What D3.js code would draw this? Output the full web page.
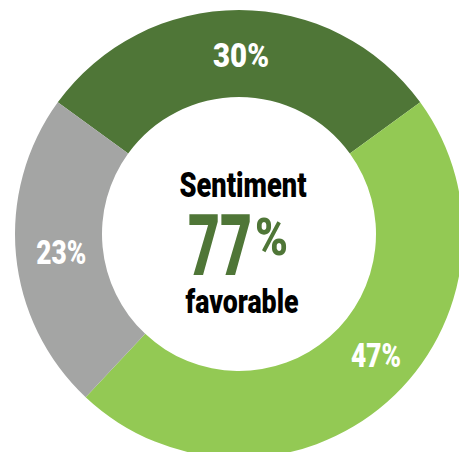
<!DOCTYPE html>
<html>
<head>
<meta charset="utf-8">
<script src="https://cdn.jsdelivr.net/npm/d3@7"></script>
<style>
	html, body { margin: 0; padding: 0; background: #fff; overflow: hidden; }
	text { font-family: Roboto, "Open Sans", sans-serif; font-weight: 900; }
</style>
</head>
<body>
<div id="donut"></div>
<script>
// slice data, clockwise from the upper left
var categories = ["Positive", "Very positive", "Negative"];
var shares = [30, 47, 23];
var sliceColors = ["#4f7637", "#93c954", "#a4a5a4"];
var centerTitle = "Sentiment";
var centerValue = "77";
var centerSub = "favorable";

// layout
var WIDTH = 459, HEIGHT = 452;
var CX = 239, CY = 234;
var R_OUT = 224, R_IN = 137;
// small angle nudge (degrees) for some labels, like the original
var LABEL_NUDGE = [0, -7, 0];

function pct(v) { return v + "%"; }

function plotDonut() {
	const svg = d3.select('#donut')
		.append('svg')
		.attr('width', WIDTH)
		.attr('height', HEIGHT);

	const g = svg.append('g')
		.attr('transform', `translate(${CX},${CY})`);

	const data = categories.map((c, i) => ({ name: c, value: shares[i], color: sliceColors[i] }));

	const pie = d3.pie()
		.sort(null)
		.value(d => d.value)
		.startAngle(-0.3 * Math.PI)
		.endAngle(1.7 * Math.PI);

	const arc = d3.arc()
		.innerRadius(R_IN)
		.outerRadius(R_OUT);

	const arcs = pie(data);

	g.selectAll('path')
		.data(arcs)
		.enter()
		.append('path')
		.attr('d', arc)
		.attr('fill', d => d.data.color);

	// percent labels, centred in the ring
	const mid = (R_IN + R_OUT) / 2;
	const labelAngle = (d, i) => (d.startAngle + d.endAngle) / 2 + LABEL_NUDGE[i] * Math.PI / 180;
	g.selectAll('text.lbl')
		.data(arcs)
		.enter()
		.append('text')
		.attr('class', 'lbl')
		.attr('x', (d, i) => mid * Math.sin(labelAngle(d, i)) + 2)
		.attr('y', (d, i) => -mid * Math.cos(labelAngle(d, i)) + 13)
		.attr('text-anchor', 'middle')
		.attr('fill', '#fff')
		.style('font-size', '33px')
		.attr('textLength', d => d.data.value >= 30 && d.data.value < 40 ? 56 : 50)
		.attr('lengthAdjust', 'spacingAndGlyphs')
		.text(d => pct(d.data.value));

	// centre text
	g.append('text')
		.attr('x', 4)
		.attr('y', -37)
		.attr('text-anchor', 'middle')
		.attr('fill', '#000')
		.style('font-size', '35px')
		.attr('textLength', 127)
		.attr('lengthAdjust', 'spacingAndGlyphs')
		.text(centerTitle);

	const big = g.append('text')
		.attr('fill', sliceColors[0]);
	big.append('tspan')
		.attr('x', -51)
		.attr('y', 41)
		.style('font-size', '85px')
		.attr('textLength', 64)
		.attr('lengthAdjust', 'spacingAndGlyphs')
		.text(centerValue);
	big.append('tspan')
		.attr('x', 16)
		.attr('y', 21)
		.style('font-size', '52px')
		.attr('textLength', 33)
		.attr('lengthAdjust', 'spacingAndGlyphs')
		.text('%');

	g.append('text')
		.attr('x', 3)
		.attr('y', 79)
		.attr('text-anchor', 'middle')
		.attr('fill', '#000')
		.style('font-size', '33px')
		.attr('textLength', 113)
		.attr('lengthAdjust', 'spacingAndGlyphs')
		.text(centerSub);
}

plotDonut();
</script>
</body>
</html>
